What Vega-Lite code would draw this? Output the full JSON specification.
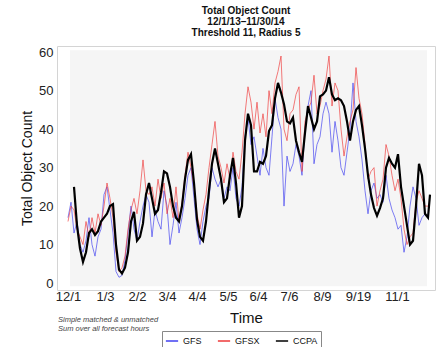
{
  "$schema": "https://vega.github.io/schema/vega-lite/v6.json",
  "width": 378,
  "height": 244,
  "autosize": {"type": "none"},
  "padding": {"left": 57, "top": 46, "right": 8, "bottom": 57},
  "background": "white",
  "config": {
    "font": "Liberation Sans",
    "view": {"stroke": "#d4d4d4", "strokeWidth": 1, "fill": "white"},
    "axis": {"labelOverlap": false, "ticks": false, "domain": false, "grid": false, "labelColor": "#222", "titleColor": "#111", "titleFontWeight": "normal", "labelFontSize": 13},
    "axisX": {"labelBound": false, "labelFlush": false, "labelPadding": 0, "labelSeparation": 0, "titleFontSize": 15, "titlePadding": 7},
    "axisY": {"labelPadding": 4, "titleFontSize": 14, "titlePadding": 4}
  },
  "title": {
    "text": ["Total Object Count", "12/1/13\u201311/30/14", "Threshold 11, Radius 5"],
    "fontSize": 10,
    "fontWeight": "bold",
    "lineHeight": 11,
    "color": "#111",
    "anchor": "middle",
    "offset": 8
  },
  "layer": [
    {
      "data": {"values": [{}]},
      "mark": {"type": "rect", "color": "#f5f5f5"},
      "encoding": {
        "x": {
          "datum": 2,
          "type": "quantitative",
          "scale": {"domain": [-11, 367], "nice": false, "zero": false},
          "axis": {
            "title": "Time",
            "values": [0, 37, 69, 99, 129, 160, 190, 221, 254, 290, 329],
            "tickCount": 40,
            "labelExpr": "datum.value == 0 ? '12/1' : datum.value == 37 ? '1/3' : datum.value == 69 ? '2/2' : datum.value == 99 ? '3/4' : datum.value == 129 ? '4/4' : datum.value == 160 ? '5/5' : datum.value == 190 ? '6/4' : datum.value == 221 ? '7/6' : datum.value == 254 ? '8/9' : datum.value == 290 ? '9/19' : '11/1'",
            "labelOverlap": false
          }
        },
        "x2": {"datum": 359},
        "y": {
          "datum": -0.8,
          "type": "quantitative",
          "scale": {"domain": [-1.8, 61.6], "nice": false, "zero": false},
          "axis": {"title": "Total Object Count", "values": [0, 10, 20, 30, 40, 50, 60], "tickCount": 20}
        },
        "y2": {"datum": 60.5}
      }
    },
    {
      "data": {
        "values": [
          {"d": 0, "CCPA": null, "GFS": 17, "GFSX": 16},
          {"d": 3, "CCPA": null, "GFS": 21, "GFSX": 20},
          {"d": 6, "CCPA": 25, "GFS": 13, "GFSX": 19},
          {"d": 9, "CCPA": 15, "GFS": 16, "GFSX": 14},
          {"d": 12, "CCPA": 9, "GFS": 10, "GFSX": 12},
          {"d": 15, "CCPA": 5.5, "GFS": 8, "GFSX": 10},
          {"d": 18, "CCPA": 8, "GFS": 11, "GFSX": 16},
          {"d": 21, "CCPA": 13, "GFS": 17, "GFSX": 12},
          {"d": 24, "CCPA": 14, "GFS": 10, "GFSX": 17},
          {"d": 27, "CCPA": 12.5, "GFS": 7, "GFSX": 13},
          {"d": 30, "CCPA": 13.5, "GFS": 12, "GFSX": 18},
          {"d": 33, "CCPA": 16, "GFS": 14, "GFSX": 15},
          {"d": 36, "CCPA": 17, "GFS": 23, "GFSX": 20},
          {"d": 39, "CCPA": 18, "GFS": 25, "GFSX": 26},
          {"d": 42, "CCPA": 20, "GFS": 19, "GFSX": 22},
          {"d": 45, "CCPA": 20.5, "GFS": 13, "GFSX": 17},
          {"d": 48, "CCPA": 10, "GFS": 3, "GFSX": 8},
          {"d": 51, "CCPA": 3.5, "GFS": 1.5, "GFSX": 3},
          {"d": 54, "CCPA": 2.5, "GFS": 2, "GFSX": 4},
          {"d": 57, "CCPA": 4, "GFS": 6, "GFSX": 7},
          {"d": 60, "CCPA": 8, "GFS": 13, "GFSX": 14},
          {"d": 63, "CCPA": 16, "GFS": 20, "GFSX": 19},
          {"d": 66, "CCPA": 18.5, "GFS": 14, "GFSX": 22},
          {"d": 69, "CCPA": 11, "GFS": 11, "GFSX": 18},
          {"d": 72, "CCPA": 12, "GFS": 16, "GFSX": 24},
          {"d": 75, "CCPA": 15.5, "GFS": 20, "GFSX": 32},
          {"d": 78, "CCPA": 23, "GFS": 23, "GFSX": 24},
          {"d": 81, "CCPA": 26, "GFS": 21, "GFSX": 23},
          {"d": 84, "CCPA": 22, "GFS": 12, "GFSX": 25},
          {"d": 87, "CCPA": 18, "GFS": 19, "GFSX": 20},
          {"d": 90, "CCPA": 19, "GFS": 16, "GFSX": 27},
          {"d": 93, "CCPA": 23.5, "GFS": 14, "GFSX": 22},
          {"d": 96, "CCPA": 29, "GFS": 24, "GFSX": 26},
          {"d": 99, "CCPA": 28.5, "GFS": 20, "GFSX": 18},
          {"d": 102, "CCPA": 25, "GFS": 10, "GFSX": 22},
          {"d": 105, "CCPA": 20, "GFS": 15, "GFSX": 17},
          {"d": 108, "CCPA": 17, "GFS": 21, "GFSX": 25},
          {"d": 111, "CCPA": 16, "GFS": 13, "GFSX": 16},
          {"d": 114, "CCPA": 20, "GFS": 17, "GFSX": 21},
          {"d": 117, "CCPA": 27, "GFS": 22, "GFSX": 28},
          {"d": 120, "CCPA": 32, "GFS": 28, "GFSX": 34},
          {"d": 123, "CCPA": 33.5, "GFS": 30, "GFSX": 30},
          {"d": 126, "CCPA": 26, "GFS": 22, "GFSX": 25},
          {"d": 129, "CCPA": 16.5, "GFS": 14, "GFSX": 18},
          {"d": 132, "CCPA": 12, "GFS": 10, "GFSX": 14},
          {"d": 135, "CCPA": 11, "GFS": 16, "GFSX": 19},
          {"d": 138, "CCPA": 16, "GFS": 20, "GFSX": 23},
          {"d": 141, "CCPA": 24, "GFS": 22, "GFSX": 30},
          {"d": 144, "CCPA": 31, "GFS": 30, "GFSX": 36},
          {"d": 147, "CCPA": 35, "GFS": 27, "GFSX": 42},
          {"d": 150, "CCPA": 31, "GFS": 25, "GFSX": 33},
          {"d": 153, "CCPA": 27, "GFS": 27, "GFSX": 30},
          {"d": 156, "CCPA": 21, "GFS": 22, "GFSX": 26},
          {"d": 159, "CCPA": 22, "GFS": 25, "GFSX": 31},
          {"d": 162, "CCPA": 28, "GFS": 24, "GFSX": 27},
          {"d": 165, "CCPA": 32.5, "GFS": 30, "GFSX": 34},
          {"d": 168, "CCPA": 26, "GFS": 22, "GFSX": 29},
          {"d": 171, "CCPA": 17, "GFS": 20, "GFSX": 27},
          {"d": 174, "CCPA": 20, "GFS": 25, "GFSX": 34},
          {"d": 177, "CCPA": 37, "GFS": 38, "GFSX": 44},
          {"d": 180, "CCPA": 44, "GFS": 43, "GFSX": 51},
          {"d": 183, "CCPA": 41, "GFS": 36, "GFSX": 47},
          {"d": 186, "CCPA": 29, "GFS": 38, "GFSX": 40},
          {"d": 189, "CCPA": 29, "GFS": 33, "GFSX": 47},
          {"d": 192, "CCPA": 31.5, "GFS": 28, "GFSX": 39},
          {"d": 195, "CCPA": 31, "GFS": 35, "GFSX": 44},
          {"d": 198, "CCPA": 33, "GFS": 30, "GFSX": 38},
          {"d": 201, "CCPA": 39.5, "GFS": 28, "GFSX": 50},
          {"d": 204, "CCPA": 41, "GFS": 38, "GFSX": 44},
          {"d": 207, "CCPA": 48, "GFS": 48, "GFSX": 52},
          {"d": 210, "CCPA": 52, "GFS": 43, "GFSX": 55},
          {"d": 213, "CCPA": 49.5, "GFS": 40, "GFSX": 59},
          {"d": 216, "CCPA": 46.5, "GFS": 20, "GFSX": 40},
          {"d": 219, "CCPA": 42, "GFS": 33, "GFSX": 37},
          {"d": 222, "CCPA": 41.5, "GFS": 29, "GFSX": 44},
          {"d": 225, "CCPA": 43, "GFS": 31, "GFSX": 45},
          {"d": 228, "CCPA": 37, "GFS": 36, "GFSX": 49},
          {"d": 231, "CCPA": 34, "GFS": 33, "GFSX": 51},
          {"d": 234, "CCPA": 31.5, "GFS": 28, "GFSX": 29},
          {"d": 237, "CCPA": 39, "GFS": 40, "GFSX": 42},
          {"d": 240, "CCPA": 46, "GFS": 46, "GFSX": 45},
          {"d": 243, "CCPA": 43, "GFS": 50, "GFSX": 47},
          {"d": 246, "CCPA": 40, "GFS": 31, "GFSX": 54},
          {"d": 249, "CCPA": 42, "GFS": 36, "GFSX": 44},
          {"d": 252, "CCPA": 48.5, "GFS": 38, "GFSX": 46},
          {"d": 255, "CCPA": 49, "GFS": 44, "GFSX": 50},
          {"d": 258, "CCPA": 50, "GFS": 47, "GFSX": 53},
          {"d": 261, "CCPA": 53.5, "GFS": 44, "GFSX": 59},
          {"d": 264, "CCPA": 49, "GFS": 34, "GFSX": 46},
          {"d": 267, "CCPA": 47.5, "GFS": 42, "GFSX": 52},
          {"d": 270, "CCPA": 48, "GFS": 37, "GFSX": 50},
          {"d": 273, "CCPA": 47.5, "GFS": 30, "GFSX": 40},
          {"d": 276, "CCPA": 46, "GFS": 28, "GFSX": 33},
          {"d": 279, "CCPA": 42, "GFS": 34, "GFSX": 38},
          {"d": 282, "CCPA": 37, "GFS": 40, "GFSX": 42},
          {"d": 285, "CCPA": 42, "GFS": 52, "GFSX": 45},
          {"d": 288, "CCPA": 45, "GFS": 42, "GFSX": 56},
          {"d": 291, "CCPA": 46, "GFS": 38, "GFSX": 48},
          {"d": 294, "CCPA": 41, "GFS": 32, "GFSX": 44},
          {"d": 297, "CCPA": 35, "GFS": 24, "GFSX": 36},
          {"d": 300, "CCPA": 28, "GFS": 18, "GFSX": 27},
          {"d": 303, "CCPA": 23, "GFS": 24, "GFSX": 29},
          {"d": 306, "CCPA": 19.5, "GFS": 26, "GFSX": 30},
          {"d": 309, "CCPA": 17.5, "GFS": 22, "GFSX": 20},
          {"d": 312, "CCPA": 19.5, "GFS": 23, "GFSX": 24},
          {"d": 315, "CCPA": 22, "GFS": 21, "GFSX": 27},
          {"d": 318, "CCPA": 30, "GFS": 28, "GFSX": 36},
          {"d": 321, "CCPA": 32.5, "GFS": 22, "GFSX": 33},
          {"d": 324, "CCPA": 31, "GFS": 19, "GFSX": 28},
          {"d": 327, "CCPA": 30, "GFS": 17, "GFSX": 24},
          {"d": 330, "CCPA": 33.5, "GFS": 14, "GFSX": 27},
          {"d": 333, "CCPA": 25, "GFS": 15, "GFSX": 22},
          {"d": 336, "CCPA": 20, "GFS": 8, "GFSX": 14},
          {"d": 339, "CCPA": 15, "GFS": 12, "GFSX": 10},
          {"d": 342, "CCPA": 10, "GFS": 20, "GFSX": 12},
          {"d": 345, "CCPA": 11, "GFS": 25, "GFSX": 13},
          {"d": 348, "CCPA": 20, "GFS": 22, "GFSX": 21},
          {"d": 351, "CCPA": 31, "GFS": 15, "GFSX": 24},
          {"d": 354, "CCPA": 28, "GFS": 17, "GFSX": 22},
          {"d": 357, "CCPA": 18, "GFS": 18, "GFSX": 20},
          {"d": 360, "CCPA": 17, "GFS": null, "GFSX": 20},
          {"d": 362, "CCPA": 23, "GFS": null, "GFSX": null}
        ]
      },
      "transform": [{"fold": ["GFS", "GFSX", "CCPA"], "as": ["model", "count"]}],
      "mark": {"type": "line", "interpolate": "linear"},
      "encoding": {
        "x": {"field": "d", "type": "quantitative"},
        "y": {"field": "count", "type": "quantitative"},
        "color": {
          "field": "model",
          "type": "nominal",
          "title": null,
          "scale": {"domain": ["GFS", "GFSX", "CCPA"], "range": ["#4040f0", "#ee3a3a", "#000000"]},
          "legend": {
            "orient": "none",
            "legendX": 105,
            "legendY": 285,
            "direction": "horizontal",
            "symbolType": "stroke",
            "symbolSize": 150,
            "symbolStrokeWidth": 1.5,
            "labelFontSize": 9,
            "labelColor": "#111",
            "strokeColor": "#888",
            "padding": 3,
            "columnPadding": 12
          }
        },
        "strokeWidth": {
          "condition": {"test": "datum.model === 'CCPA'", "value": 2.2},
          "value": 0.9
        },
        "opacity": {
          "condition": {"test": "datum.model === 'CCPA'", "value": 1},
          "value": 0.75
        }
      }
    },
    {
      "data": {"values": [{}]},
      "mark": {"type": "text", "align": "left", "baseline": "middle", "fontSize": 7.5, "fontStyle": "italic", "color": "#444", "lineHeight": 9, "clip": false},
      "encoding": {
        "x": {"datum": -10, "type": "quantitative"},
        "y": {"datum": -9.6, "type": "quantitative"},
        "text": {"value": ["Simple matched & unmatched", " Sum over all forecast hours"]}
      }
    }
  ]
}
